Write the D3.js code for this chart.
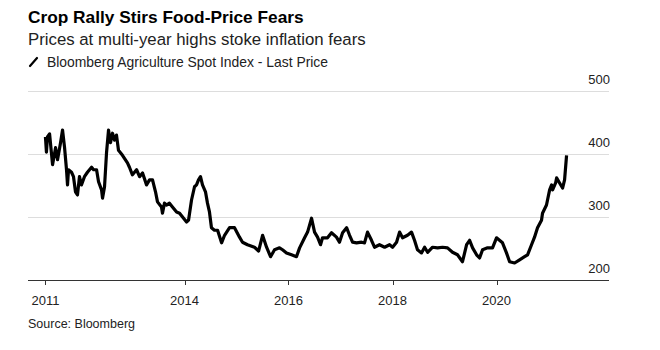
<!DOCTYPE html>
<meta charset="utf-8">
<style>
  body { margin: 0; background: #fff; }
  svg { font-family: 'Liberation Sans', Arial, sans-serif; }
  .title { font-size: 17.3px; font-weight: bold; fill: #000; }
  .subtitle { font-size: 16.8px; fill: #222; }
  .legend { font-size: 13.9px; fill: #222; }
  .tick-label { font-size: 13px; fill: #222; }
  .source { font-size: 12.5px; fill: #222; }
  .grid line { stroke: #ddd; stroke-width: 1; }
  .axis line { stroke: #333; stroke-width: 1; }
  .series { fill: none; stroke: #000; stroke-width: 3.2; stroke-linejoin: round; }
</style>
<body>
</body>
<script src="https://cdn.jsdelivr.net/npm/d3@7"></script>
<script>
  // Bloomberg Agriculture Spot Index
  const dates = [
    '2011-04-30','2011-05-07','2011-05-14','2011-05-29','2011-06-19','2011-07-10','2011-07-24','2011-08-14',
    '2011-08-28','2011-09-11','2011-09-25','2011-10-02','2011-10-09','2011-10-30','2011-11-13','2011-11-27',
    '2011-12-11','2011-12-25','2012-01-08','2012-01-29','2012-02-19','2012-03-19','2012-04-02','2012-04-23',
    '2012-05-07','2012-05-28','2012-06-04','2012-06-18','2012-07-02','2012-07-16','2012-07-30','2012-08-13',
    '2012-08-27','2012-09-10','2012-09-24','2012-10-22','2012-11-26','2012-12-10','2012-12-31','2013-01-29',
    '2013-02-19','2013-03-12','2013-04-09','2013-04-30','2013-05-21','2013-06-11','2013-06-25','2013-07-23',
    '2013-07-30','2013-08-13','2013-08-27','2013-09-17','2013-10-08','2013-11-06','2013-11-27','2013-12-18',
    '2014-01-15','2014-01-29','2014-02-19','2014-03-12','2014-03-26','2014-04-09','2014-04-23','2014-05-07',
    '2014-05-28','2014-06-11','2014-06-25','2014-07-09','2014-07-30','2014-08-21','2014-09-18','2014-10-09',
    '2014-11-13','2014-12-18','2015-01-22','2015-02-12','2015-03-19','2015-05-07','2015-06-05','2015-07-03',
    '2015-07-31','2015-08-28','2015-09-25','2015-10-30','2015-11-20','2015-12-18','2016-01-22','2016-02-26',
    '2016-03-19','2016-04-23','2016-05-14','2016-06-11','2016-07-02','2016-07-23','2016-08-13','2016-08-27',
    '2016-10-01','2016-10-29','2016-12-03','2016-12-24','2017-01-15','2017-02-12','2017-03-05','2017-03-26',
    '2017-04-23','2017-05-28','2017-06-18','2017-07-09','2017-08-06','2017-08-27','2017-10-01','2017-11-06',
    '2017-12-11','2018-01-01','2018-01-29','2018-02-19','2018-03-12','2018-04-16','2018-05-14','2018-06-04',
    '2018-06-25','2018-07-23','2018-08-14','2018-09-04','2018-10-09','2018-11-13','2018-12-18','2019-01-22',
    '2019-02-26','2019-04-02','2019-05-07','2019-06-05','2019-06-26','2019-07-17','2019-08-14','2019-09-04',
    '2019-09-25','2019-10-30','2019-12-04','2020-01-01','2020-01-22','2020-02-12','2020-03-11','2020-04-02',
    '2020-05-07','2020-06-11','2020-07-16','2020-08-06','2020-09-03','2020-09-24','2020-10-15','2020-11-12',
    '2020-11-19','2020-12-17','2021-01-08','2021-01-22','2021-01-29','2021-02-19','2021-02-26','2021-03-19',
    '2021-04-09','2021-04-23','2021-05-07'
  ];
  const values = [
    427, 403, 427, 432, 383, 410, 391, 418,
    438, 411, 375, 351, 375, 371, 364, 340,
    335, 364, 351, 364, 371, 379, 375, 375,
    356, 343, 330, 348, 402, 438, 418, 433,
    422, 430, 406, 398, 386, 379, 367, 375,
    364, 370, 351, 359, 359, 340, 324, 316,
    306, 322, 319, 322, 316, 308, 306, 300,
    292, 295, 327, 348, 351, 359, 364, 351,
    340, 322, 308, 283, 279, 279, 259, 271,
    283, 283, 268, 260, 256, 252, 246, 271,
    252, 237, 248, 251, 248, 243, 240, 237,
    251, 267, 276, 298, 276, 268, 256, 267,
    267, 275, 268, 260, 275, 283, 271, 260,
    259, 260, 259, 276, 263, 252, 256, 252,
    256, 252, 260, 276, 267, 271, 276, 263,
    248, 243, 252, 244, 252, 251, 252, 251,
    244, 240, 229, 256, 263, 251, 240, 235,
    248, 251, 251, 267, 263, 259, 243, 229,
    227, 232, 237, 240, 256, 268, 283, 295,
    306, 319, 343, 351, 343, 354, 362, 354,
    346, 359, 398
  ];
  const yTicks = [200, 300, 400, 500];
  const xTicks = ['2011-04-30', '2014-01-01', '2016-01-01', '2018-01-01', '2020-01-01'];
  const xTickLabels = ['2011', '2014', '2016', '2018', '2020'];

  const w = 660, h = 350;
  const parse = d3.timeParse('%Y-%m-%d');
  const data = dates.map((d, i) => ({date: parse(d), value: values[i]}));

  const svg = d3.select('body').append('svg')
    .attr('width', w)
    .attr('height', h);

  const x = d3.scaleTime()
    .domain([parse('2011-01-01'), parse('2022-03-01')])
    .range([28.5, 609]);
  const y = d3.scaleLinear()
    .domain([200, 500])
    .range([280, 91]);

  // header
  svg.append('text').attr('class', 'title').attr('x', 28).attr('y', 23)
    .text('Crop Rally Stirs Food-Price Fears');
  svg.append('text').attr('class', 'subtitle').attr('x', 28).attr('y', 45)
    .text('Prices at multi-year highs stoke inflation fears');
  svg.append('line')
    .attr('x1', 30).attr('y1', 66).attr('x2', 37).attr('y2', 58)
    .attr('stroke', '#000').attr('stroke-width', 2.2).attr('stroke-linecap', 'round');
  svg.append('text').attr('class', 'legend').attr('x', 47).attr('y', 67)
    .text('Bloomberg Agriculture Spot Index - Last Price');

  // gridlines + right labels
  const grid = svg.append('g').attr('class', 'grid');
  grid.selectAll('line')
    .data(yTicks.filter(d => d !== 200))
    .join('line')
    .attr('x1', 28).attr('x2', 609)
    .attr('y1', d => Math.round(y(d)) + 0.5)
    .attr('y2', d => Math.round(y(d)) + 0.5);
  svg.append('g').selectAll('text')
    .data(yTicks)
    .join('text')
    .attr('class', 'tick-label')
    .attr('text-anchor', 'end')
    .attr('x', 610)
    .attr('y', d => y(d) - 7)
    .text(d => d);

  // bottom axis
  const axis = svg.append('g').attr('class', 'axis');
  axis.append('line')
    .attr('x1', 28).attr('x2', 609)
    .attr('y1', y(200) + 0.5).attr('y2', y(200) + 0.5);
  axis.selectAll('line.tick')
    .data(xTicks)
    .join('line')
    .attr('class', 'tick')
    .attr('x1', d => Math.round(x(parse(d))) + 0.5)
    .attr('x2', d => Math.round(x(parse(d))) + 0.5)
    .attr('y1', y(200)).attr('y2', y(200) + 5);
  svg.append('g').selectAll('text')
    .data(xTicks)
    .join('text')
    .attr('class', 'tick-label')
    .attr('text-anchor', 'middle')
    .attr('x', d => x(parse(d)))
    .attr('y', 305)
    .text((d, i) => xTickLabels[i]);

  // series
  const line = d3.line()
    .x(d => x(d.date))
    .y(d => y(d.value));
  svg.append('path')
    .datum(data)
    .attr('class', 'series')
    .attr('d', line);

  svg.append('text').attr('class', 'source').attr('x', 28).attr('y', 328)
    .text('Source: Bloomberg');
</script>
